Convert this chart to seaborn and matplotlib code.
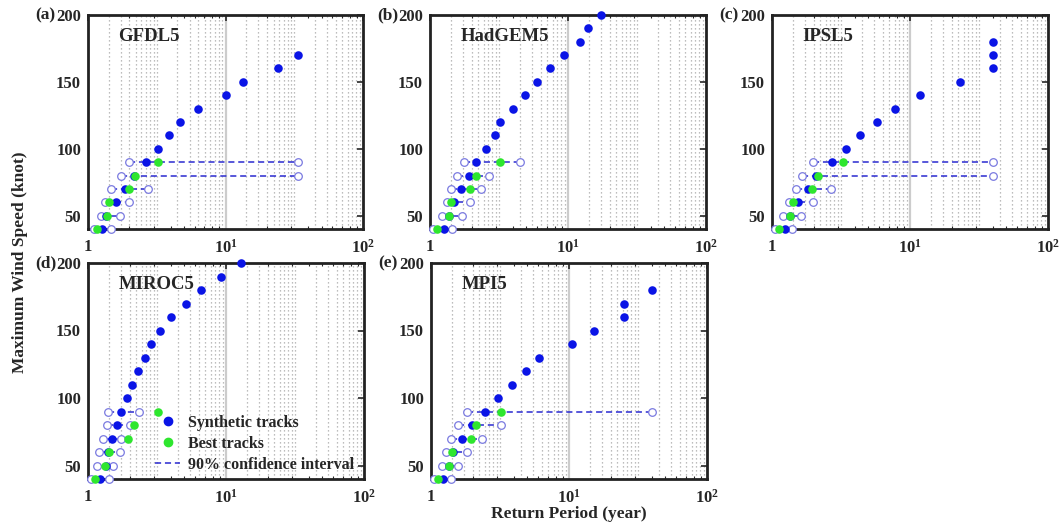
import numpy as np
import pandas as pd
import seaborn as sns
import matplotlib.pyplot as plt
from matplotlib.lines import Line2D

sns.set_theme(style="white")
plt.rcParams['font.family'] = ['Liberation Serif', 'DejaVu Serif']
plt.rcParams['font.weight'] = 'bold'
plt.rcParams['mathtext.default'] = 'regular'

# wind speed levels (knot)
levels = [40, 50, 60, 70, 80, 90, 100, 110, 120, 130, 140, 150, 160, 170, 180, 190, 200]
ci_levels = [40, 50, 60, 70, 80, 90]
best_levels = [40, 50, 60, 70, 80, 90]

models = ["GFDL5", "HadGEM5", "IPSL5", "MIROC5", "MPI5"]
panel_tags = ["(a)", "(b)", "(c)", "(d)", "(e)"]

# return periods (year) of synthetic tracks, per level
syn_gfdl = [1.27, 1.36, 1.59, 1.87, 2.15, 2.66, 3.22, 3.87, 4.68, 6.28, 10.0, 13.5, 23.9, 33.5]
syn_hadgem = [1.26, 1.37, 1.50, 1.69, 1.92, 2.14, 2.53, 2.97, 3.22, 3.98, 4.91, 5.95, 7.42, 9.36, 12.2, 13.9, 17.4]
syn_ipsl = [1.24, 1.34, 1.54, 1.82, 2.09, 2.73, 3.41, 4.35, 5.77, 7.79, 11.9, 23.1, 40.0, 40.0, 40.0]
syn_miroc = [1.23, 1.34, 1.40, 1.49, 1.62, 1.74, 1.92, 2.08, 2.31, 2.57, 2.87, 3.30, 4.00, 5.14, 6.60, 9.20, 12.8]
syn_mpi = [1.23, 1.34, 1.44, 1.69, 1.98, 2.47, 3.04, 3.84, 4.84, 6.08, 10.6, 15.2, 25.2, 25.2, 39.7]

# return periods of best tracks
best_gfdl = [1.16, 1.38, 1.42, 1.98, 2.18, 3.22]
best_hadgem = [1.13, 1.37, 1.43, 1.96, 2.14, 3.22]
best_ipsl = [1.12, 1.34, 1.42, 1.96, 2.15, 3.26]
best_miroc = [1.12, 1.32, 1.41, 1.95, 2.14, 3.21]
best_mpi = [1.12, 1.36, 1.42, 1.94, 2.12, 3.20]

# 90% confidence interval bounds
ci_lo_gfdl = [1.10, 1.25, 1.33, 1.48, 1.74, 1.98]
ci_hi_gfdl = [1.46, 1.70, 1.98, 2.72, 33.5, 33.5]
ci_lo_hadgem = [1.05, 1.23, 1.32, 1.41, 1.56, 1.76]
ci_hi_hadgem = [1.45, 1.71, 1.96, 2.35, 2.66, 4.49]
ci_lo_ipsl = [1.05, 1.20, 1.33, 1.50, 1.66, 1.98]
ci_hi_ipsl = [1.40, 1.61, 1.98, 2.69, 40.0, 40.0]
ci_lo_miroc = [1.05, 1.16, 1.21, 1.28, 1.37, 1.40]
ci_hi_miroc = [1.41, 1.52, 1.71, 1.72, 2.00, 2.34]
ci_lo_mpi = [1.05, 1.20, 1.28, 1.39, 1.58, 1.82]
ci_hi_mpi = [1.39, 1.58, 1.82, 2.33, 3.20, 39.7]

syn_all = [syn_gfdl, syn_hadgem, syn_ipsl, syn_miroc, syn_mpi]
best_all = [best_gfdl, best_hadgem, best_ipsl, best_miroc, best_mpi]
ci_lo_all = [ci_lo_gfdl, ci_lo_hadgem, ci_lo_ipsl, ci_lo_miroc, ci_lo_mpi]
ci_hi_all = [ci_hi_gfdl, ci_hi_hadgem, ci_hi_ipsl, ci_hi_miroc, ci_hi_mpi]

W, H = 1063, 524
fig = plt.figure(figsize=(W / 100, H / 100), dpi=100)

# axes boxes in pixels: left, top, right, bottom
boxes = [(88, 15, 363, 229), (430, 15, 706, 229), (772, 15, 1048, 229),
         (88, 263, 364, 479), (431, 263, 707, 479)]

blue = "#0a14e6"
green = "#2ee62e"
ci_col = "#2a2ad0"

grid_x = [np.sqrt(m * 10.0 ** j) for j in range(4) for m in range(1, 10)]

for i, (l, t, r, b) in enumerate(boxes):
    ax = fig.add_axes([l / W, 1 - b / H, (r - l) / W, (b - t) / H])
    ax.set_xscale("log")
    ax.set_xlim(1, 100)
    ax.set_ylim(40, 200)

    for gx in grid_x:
        if abs(gx - 10) < 1e-6:
            ax.axvline(gx, color="#cccccc", lw=1.6, zorder=0)
        elif 1 < gx < 100:
            ax.axvline(gx, color="#a8a8a8", lw=0.9, ls=(0, (1, 2.2)), zorder=0)

    # confidence intervals
    ci = pd.DataFrame({
        "rp": ci_lo_all[i] + ci_hi_all[i],
        "speed": ci_levels + ci_levels,
    })
    sns.lineplot(data=ci, x="rp", y="speed", units="speed", estimator=None,
                 sort=False, color=ci_col, lw=1.1, ax=ax, zorder=2)
    for line in ax.lines[-len(ci_levels):]:
        line.set_dashes((4, 2.5))
    sns.scatterplot(data=ci, x="rp", y="speed", ax=ax, s=30, facecolor="white",
                    edgecolor="#7a7ae0", linewidth=0.9, zorder=3, clip_on=False)

    syn = pd.DataFrame({"rp": syn_all[i], "speed": levels[:len(syn_all[i])]})
    best = pd.DataFrame({"rp": best_all[i], "speed": best_levels})
    sns.scatterplot(data=syn, x="rp", y="speed", ax=ax, s=38, color=blue,
                    edgecolor=blue, linewidth=0, zorder=4, clip_on=False)
    sns.scatterplot(data=best, x="rp", y="speed", ax=ax, s=38, color=green,
                    edgecolor=green, linewidth=0, zorder=5, clip_on=False)

    ax.set_xlabel("")
    ax.set_ylabel("")
    ax.set_xticks([1, 10, 100])
    ax.set_xticklabels(["1", "$10^1$", "$10^2$"])
    ax.set_yticks([50, 100, 150, 200])
    ax.tick_params(axis="both", which="major", direction="in", length=4, width=1.2,
                   top=True, right=True, labelsize=12, pad=5)
    ax.tick_params(axis="x", which="major", pad=7)
    ax.tick_params(axis="x", which="minor", direction="in", length=2, width=0.8,
                   top=True, bottom=True)
    for lab in ax.get_xticklabels() + ax.get_yticklabels():
        lab.set_fontweight("bold")
    for sp in ax.spines.values():
        sp.set_linewidth(2.0)
        sp.set_color("#222222")

    ax.text(0.11, 0.9, models[i], transform=ax.transAxes, fontsize=13.5,
            fontweight="bold", va="center", ha="left")
    fig.text((l - 53) / W, 1 - t / H, panel_tags[i], fontsize=12.5,
             fontweight="bold", ha="left", va="center")

    if i == 3:
        handles = [
            Line2D([], [], ls="none", marker="o", ms=6, color=blue, mec=blue),
            Line2D([], [], ls="none", marker="o", ms=6, color=green, mec=green),
            Line2D([], [], color=ci_col, lw=1.1, dashes=(4, 2.5)),
        ]
        ax.legend(handles, ["Synthetic tracks", "Best tracks", "90% confidence interval"],
                  loc="lower right", bbox_to_anchor=(1.0, -0.015), frameon=False,
                  handlelength=1.6, handletextpad=0.5,
                  labelspacing=0.3, borderaxespad=0.2,
                  prop={"weight": "bold", "size": 11.5})

fig.text(20 / W, 0.5, "Maximum Wind Speed (knot)", rotation=90, fontsize=12.5,
         fontweight="bold", ha="center", va="center")
fig.text(569 / W, 1 - 514 / H, "Return Period (year)", fontsize=12.5,
         fontweight="bold", ha="center", va="center")

fig.savefig("out.png", dpi=100, facecolor="white")
